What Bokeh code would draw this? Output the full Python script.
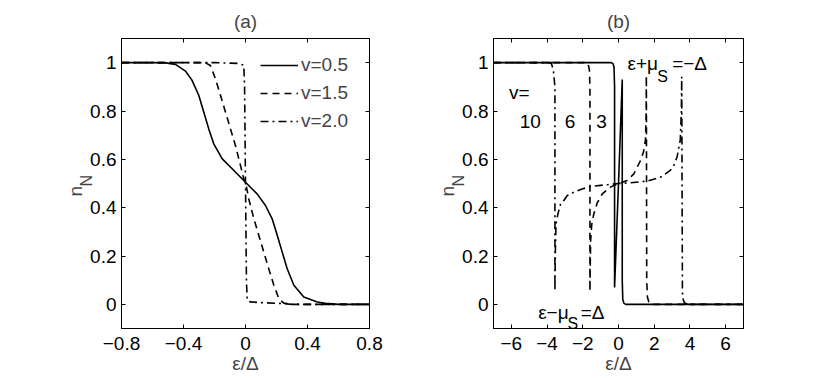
from bokeh.plotting import figure
from bokeh.models import (LinearAxis, FixedTicker, CustomJSTickFormatter, Label,
                          Legend, LegendItem, Title)
from bokeh.layouts import row
from bokeh.embed import file_html
from bokeh.resources import INLINE

# ---------------- data ----------------
xticks_a = [-0.8, -0.4, 0, 0.4, 0.8]
xticks_b = [-6, -4, -2, 0, 2, 4, 6]
yticks = [0, 0.2, 0.4, 0.6, 0.8, 1]

# panel (a)
a_x_v05 = [-0.8, -0.6, -0.516, -0.452, -0.387, -0.344, -0.301, -0.269, -0.237, -0.205,
           -0.150, -0.086, 0.0, 0.075, 0.129, 0.172, 0.205, 0.237, 0.269, 0.312,
           0.376, 0.463, 0.516, 0.6, 0.8]
a_y_v05 = [1.0, 1.0, 0.999, 0.993, 0.965, 0.926, 0.864, 0.795, 0.726, 0.664,
           0.602, 0.561, 0.505, 0.457, 0.409, 0.354, 0.285, 0.216, 0.147, 0.079,
           0.030, 0.010, 0.004, 0.0, 0.0]

a_x_v15 = [-0.8, -0.3, -0.258, -0.226, -0.194, -0.161, -0.129, -0.097, -0.065, -0.032,
           -0.011, 0.0, 0.021, 0.054, 0.086, 0.118, 0.150, 0.183, 0.215, 0.247, 0.3, 0.8]
a_y_v15 = [1.0, 1.0, 0.999, 0.988, 0.933, 0.864, 0.795, 0.726, 0.657, 0.574,
           0.519, 0.505, 0.437, 0.354, 0.285, 0.216, 0.147, 0.079, 0.024, 0.005, 0.0, 0.0]

a_x_v20 = [-0.8, -0.2, -0.05, -0.011, -0.006, 0.0, 0.006, 0.011, 0.03, 0.1, 0.247, 0.3, 0.8]
a_y_v20 = [1.0, 1.0, 0.997, 0.99, 0.9, 0.5, 0.1, 0.017, 0.01, 0.007, 0.003, 0.0, 0.0]

# panel (b)
b_x_v3 = [-7, -1.0, -0.4, -0.3, -0.25, -0.22, -0.22, 0.0, 0.21, 0.21, 0.24, 0.3, 0.4, 1.0, 7]
b_y_v3 = [1.0, 1.0, 1.0, 0.995, 0.98, 0.9, 0.07, 0.5, 0.93, 0.1, 0.02, 0.005, 0.0, 0.0, 0.0]

b_x_v6 = [-7, -1.8, -1.7, -1.63, -1.6, -1.6, -1.58, -1.56, -1.5, -1.38, -1.19, -0.91,
          -0.45, 0.0, 0.48, 0.86, 1.23, 1.4, 1.51, 1.55, 1.56, 1.58, 1.62, 1.7, 1.9, 7]
b_y_v6 = [1.0, 1.0, 0.995, 0.97, 0.9, 0.054, 0.17, 0.264, 0.33, 0.375, 0.42, 0.457,
          0.485, 0.5, 0.512, 0.54, 0.595, 0.63, 0.68, 0.8, 0.946, 0.1, 0.03, 0.01, 0.0, 0.0]

b_x_v10 = [-7, -3.9, -3.75, -3.65, -3.56, -3.56, -3.54, -3.5, -3.39, -3.24, -3.06, -2.87,
           -2.5, -2.0, -1.56, -0.63, 0.0, 0.67, 1.6, 2.35, 2.9, 3.1, 3.28, 3.46, 3.52,
           3.54, 3.58, 3.62, 3.7, 3.9, 7]
b_y_v10 = [1.0, 1.0, 0.995, 0.97, 0.9, 0.054, 0.2, 0.333, 0.375, 0.416, 0.43, 0.45,
           0.464, 0.478, 0.488, 0.495, 0.5, 0.503, 0.51, 0.526, 0.554, 0.575, 0.61, 0.68, 0.8,
           0.942, 0.05, 0.02, 0.005, 0.0, 0.0]

legend_labels = ["v=0.5", "v=1.5", "v=2.0"]

FONT = "Liberation Sans"
FS = "19px"
DASH = "7 5"
DASHDOT = "8 4 2 4"
LW = 1.6

fmt_code = "return parseFloat(tick.toFixed(2)).toString().replace('-', '\u2212');"


def make_fig(xr, xticks, border_left, frame_w, border_right, title):
    p = figure(x_range=xr, y_range=(-0.1, 1.1), frame_width=frame_w, frame_height=290,
               min_border_left=border_left, min_border_right=border_right,
               min_border_top=38, min_border_bottom=48,
               output_backend="svg", toolbar_location=None,
               background_fill_color="white", border_fill_color="white")
    p.title.text = title
    p.title.align = "center"
    p.title.text_font = FONT
    p.title.text_font_size = FS
    p.title.text_font_style = "normal"
    p.title.standoff = 14
    p.xgrid.visible = False
    p.ygrid.visible = False
    p.outline_line_color = "black"
    p.outline_line_width = 1
    bottom = p.below[0]
    left = p.left[0]
    fmt = CustomJSTickFormatter(code=fmt_code)
    blank = CustomJSTickFormatter(code="return '';")
    bottom.ticker = FixedTicker(ticks=xticks, minor_ticks=[])
    left.ticker = FixedTicker(ticks=yticks, minor_ticks=[])
    bottom.formatter = fmt
    left.formatter = fmt
    right = LinearAxis(ticker=FixedTicker(ticks=yticks, minor_ticks=[]), formatter=blank,
                       major_label_standoff=0)
    top = LinearAxis(ticker=FixedTicker(ticks=xticks, minor_ticks=[]), formatter=blank,
                     major_label_standoff=0)
    p.add_layout(right, "right")
    p.add_layout(top, "above")
    for ax in (bottom, left, right, top):
        ax.major_tick_in = 4
        ax.major_tick_out = 0
        ax.minor_tick_in = 0
        ax.minor_tick_out = 0
        ax.axis_line_color = "black"
        ax.major_tick_line_color = "black"
        ax.major_label_text_color = "black"
        ax.major_label_text_font = FONT
        ax.major_label_text_font_size = FS
    bottom.major_label_standoff = 8
    left.major_label_standoff = 5
    bottom.axis_label = "ε/Δ"
    bottom.axis_label_text_font = FONT
    bottom.axis_label_text_font_size = FS
    bottom.axis_label_text_font_style = "normal"
    bottom.axis_label_standoff = 0
    # y-axis label n_N as two stacked side titles (subscript N nearer the frame)
    p.add_layout(Title(text="N", align="left", offset=142, standoff=-14,
                       text_font=FONT, text_font_size="16px", text_font_style="normal"), "left")
    p.add_layout(Title(text="n", align="left", offset=132, standoff=-6,
                       text_font=FONT, text_font_size=FS, text_font_style="normal"), "left")
    return p


def lab(p, x, y, text, size=FS, align="center", baseline="middle"):
    p.add_layout(Label(x=x, y=y, text=text, text_font=FONT, text_font_size=size,
                       text_align=align, text_baseline=baseline, text_color="black"))


# ---------------- panel (a) ----------------
pa = make_fig((-0.8, 0.8), xticks_a, 121, 248, 46, "(a)")
r1 = pa.line(a_x_v05, a_y_v05, line_color="black", line_width=LW)
r2 = pa.line(a_x_v15, a_y_v15, line_color="black", line_width=LW, line_dash=DASH)
r3 = pa.line(a_x_v20, a_y_v20, line_color="black", line_width=LW, line_dash=DASHDOT)
leg = Legend(items=[LegendItem(label=legend_labels[0], renderers=[r1]),
                    LegendItem(label=legend_labels[1], renderers=[r2]),
                    LegendItem(label=legend_labels[2], renderers=[r3])],
             location=(139, 196), glyph_width=38, glyph_height=20, label_height=20,
             label_standoff=3, spacing=6, padding=0, margin=0,
             border_line_alpha=0, background_fill_alpha=0,
             label_text_font=FONT, label_text_font_size=FS)
pa.add_layout(leg)

# ---------------- panel (b) ----------------
pb = make_fig((-7, 7), xticks_b, 78, 250, 80, "(b)")
pb.line(b_x_v3, b_y_v3, line_color="black", line_width=LW)
pb.line(b_x_v6, b_y_v6, line_color="black", line_width=LW, line_dash=DASH)
pb.line(b_x_v10, b_y_v10, line_color="black", line_width=LW, line_dash=DASHDOT)

lab(pb, -6.128, 0.877, "v=", align="left", baseline="alphabetic")
lab(pb, -4.94, 0.758, "10", baseline="alphabetic")
lab(pb, -2.72, 0.758, "6", baseline="alphabetic")
lab(pb, -0.957, 0.758, "3", baseline="alphabetic")

lab(pb, 0.5, 0.996, "ε+μ", align="left", baseline="alphabetic")
lab(pb, 2.167, 0.942, "S", size="16px", align="left", baseline="alphabetic")
lab(pb, 3.005, 0.996, "=\u2212Δ", align="left", baseline="alphabetic")

lab(pb, -4.5, -0.032, "ε\u2212μ", align="left", baseline="alphabetic")
lab(pb, -2.86, -0.08, "S", size="16px", align="left", baseline="alphabetic")
lab(pb, -2.12, -0.032, "=Δ", align="left", baseline="alphabetic")

layout = row(pa, pb)
open("out.html", "w").write(file_html(layout, INLINE))
